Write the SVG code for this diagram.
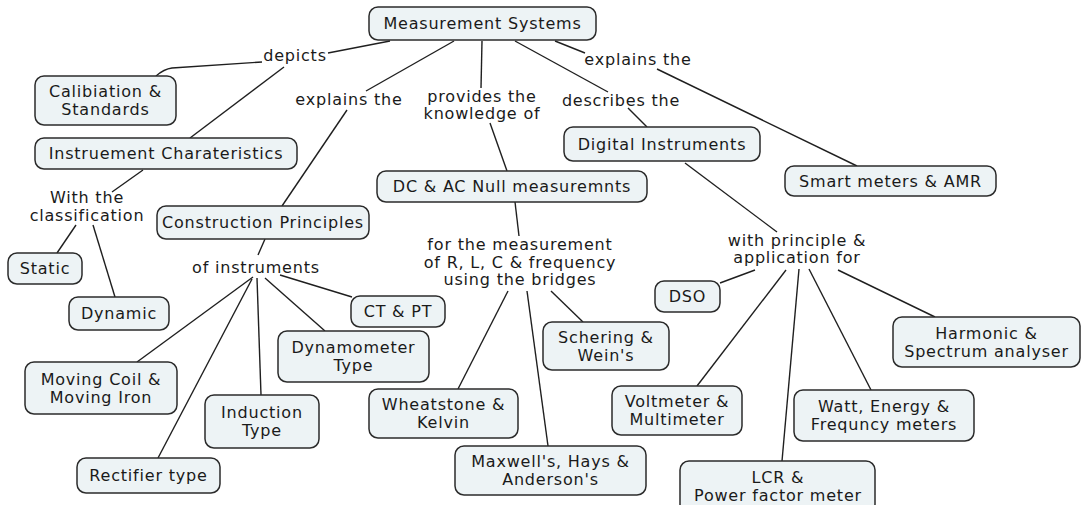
<svg xmlns="http://www.w3.org/2000/svg" width="1081" height="505" viewBox="0 0 1081 505">
<style>
.n rect{fill:#edf3f5;stroke:#2b2b2b;stroke-width:1.5}
text{font-family:"DejaVu Sans",Verdana,sans-serif;font-size:16px;letter-spacing:0.8px;fill:#1a1a1a;text-anchor:middle}
#links line,#links path{stroke:#1f1f1f;stroke-width:1.4;fill:none}
</style>
<rect width="1081" height="505" fill="#ffffff"/>
<g id="links">
<line x1="390" y1="41" x2="328" y2="53"/>
<path d="M262,62 L172,68 Q164,69 156,76"/>
<line x1="284" y1="67" x2="190" y2="138"/>
<line x1="454" y1="41" x2="366" y2="91"/>
<line x1="347" y1="110" x2="282" y2="206"/>
<line x1="482" y1="41" x2="481" y2="88"/>
<line x1="490" y1="123" x2="507" y2="171"/>
<line x1="515" y1="202" x2="519" y2="236"/>
<line x1="508" y1="291" x2="458" y2="389"/>
<line x1="527" y1="291" x2="548" y2="446"/>
<line x1="551" y1="291" x2="583" y2="322"/>
<line x1="515" y1="41" x2="608" y2="92"/>
<line x1="628" y1="108" x2="647" y2="127"/>
<line x1="555" y1="41" x2="585" y2="53"/>
<line x1="657" y1="69" x2="857" y2="166"/>
<line x1="143" y1="170" x2="112" y2="192"/>
<line x1="76" y1="225" x2="57" y2="253"/>
<line x1="93" y1="225" x2="115" y2="297"/>
<line x1="265" y1="239" x2="258" y2="255"/>
<line x1="253" y1="277" x2="137" y2="362"/>
<line x1="252" y1="279" x2="158" y2="458"/>
<line x1="257" y1="278" x2="261" y2="395"/>
<line x1="265" y1="278" x2="325" y2="331"/>
<line x1="280" y1="275" x2="352" y2="297"/>
<line x1="685" y1="163" x2="777" y2="232"/>
<line x1="755" y1="270" x2="720" y2="283"/>
<line x1="786" y1="270" x2="697" y2="386"/>
<line x1="799" y1="269" x2="782" y2="461"/>
<line x1="809" y1="269" x2="871" y2="390"/>
<line x1="838" y1="270" x2="935" y2="317"/>
</g>
<g id="lbl-depicts"><text x="295" y="61">depicts</text></g>
<g id="lbl-explains1"><text x="349" y="105">explains the</text></g>
<g id="lbl-provides"><text x="482" y="102">provides the</text><text x="482" y="119">knowledge of</text></g>
<g id="lbl-describes"><text x="621" y="106">describes the</text></g>
<g id="lbl-explains2"><text x="638" y="65">explains the</text></g>
<g id="lbl-classification"><text x="87" y="203">With the</text><text x="87" y="221">classification</text></g>
<g id="lbl-ofinstr"><text x="256" y="273">of instruments</text></g>
<g id="lbl-bridges"><text x="520" y="250">for the measurement</text><text x="520" y="268">of R, L, C &amp; frequency</text><text x="520" y="285">using the bridges</text></g>
<g id="lbl-principle"><text x="797" y="246">with principle &amp;</text><text x="797" y="263">application for</text></g>

<g id="ms" class="n"><rect x="369" y="7" width="227" height="33" rx="9"/><text x="482.5" y="29">Measurement Systems</text></g>
<g id="calib" class="n"><rect x="35" y="76" width="141" height="49" rx="9"/><text x="105.5" y="97">Calibiation &amp;</text><text x="105.5" y="115">Standards</text></g>
<g id="instchar" class="n"><rect x="35" y="138" width="262" height="31" rx="9"/><text x="166" y="159">Instruement Charateristics</text></g>
<g id="construct" class="n"><rect x="157" y="206" width="212" height="33" rx="9"/><text x="263" y="228">Construction Principles</text></g>
<g id="static" class="n"><rect x="8" y="253" width="74" height="31" rx="9"/><text x="45" y="274">Static</text></g>
<g id="dynamic" class="n"><rect x="69" y="297" width="100" height="33" rx="9"/><text x="119" y="319">Dynamic</text></g>
<g id="movingcoil" class="n"><rect x="25" y="362" width="152" height="52" rx="9"/><text x="101" y="385">Moving Coil &amp;</text><text x="101" y="403">Moving Iron</text></g>
<g id="induction" class="n"><rect x="205" y="395" width="114" height="53" rx="9"/><text x="262" y="418">Induction</text><text x="262" y="436">Type</text></g>
<g id="rectifier" class="n"><rect x="77" y="458" width="143" height="35" rx="9"/><text x="148.5" y="481">Rectifier type</text></g>
<g id="dynamometer" class="n"><rect x="278" y="331" width="151" height="51" rx="9"/><text x="353.5" y="353">Dynamometer</text><text x="353.5" y="371">Type</text></g>
<g id="ctpt" class="n"><rect x="351" y="296" width="94" height="31" rx="9"/><text x="398" y="317">CT &amp; PT</text></g>
<g id="dcac" class="n"><rect x="377" y="171" width="270" height="31" rx="9"/><text x="512" y="192">DC &amp; AC Null measuremnts</text></g>
<g id="digital" class="n"><rect x="564" y="127" width="196" height="34" rx="9"/><text x="662" y="149.5">Digital Instruments</text></g>
<g id="smart" class="n"><rect x="785" y="166" width="211" height="30" rx="9"/><text x="890.5" y="186.5">Smart meters &amp; AMR</text></g>
<g id="schering" class="n"><rect x="543" y="322" width="126" height="48" rx="9"/><text x="606" y="342.5">Schering &amp;</text><text x="606" y="360.5">Wein's</text></g>
<g id="wheatstone" class="n"><rect x="369" y="389" width="149" height="49" rx="9"/><text x="443.5" y="410">Wheatstone &amp;</text><text x="443.5" y="428">Kelvin</text></g>
<g id="maxwell" class="n"><rect x="455" y="446" width="191" height="49" rx="9"/><text x="550.5" y="467">Maxwell's, Hays &amp;</text><text x="550.5" y="485">Anderson's</text></g>
<g id="dso" class="n"><rect x="655" y="281" width="65" height="31" rx="9"/><text x="687.5" y="302">DSO</text></g>
<g id="voltmeter" class="n"><rect x="612" y="386" width="130" height="49" rx="9"/><text x="677" y="407">Voltmeter &amp;</text><text x="677" y="425">Multimeter</text></g>
<g id="lcr" class="n"><rect x="680" y="461" width="195" height="52" rx="9"/><text x="778" y="483">LCR &amp;</text><text x="778" y="501">Power factor meter</text></g>
<g id="watt" class="n"><rect x="794" y="390" width="180" height="51" rx="9"/><text x="884" y="412">Watt, Energy &amp;</text><text x="884" y="430">Frequncy meters</text></g>
<g id="harmonic" class="n"><rect x="893" y="317" width="187" height="50" rx="9"/><text x="986.5" y="338.5">Harmonic &amp;</text><text x="986.5" y="356.5">Spectrum analyser</text></g>
</svg>
